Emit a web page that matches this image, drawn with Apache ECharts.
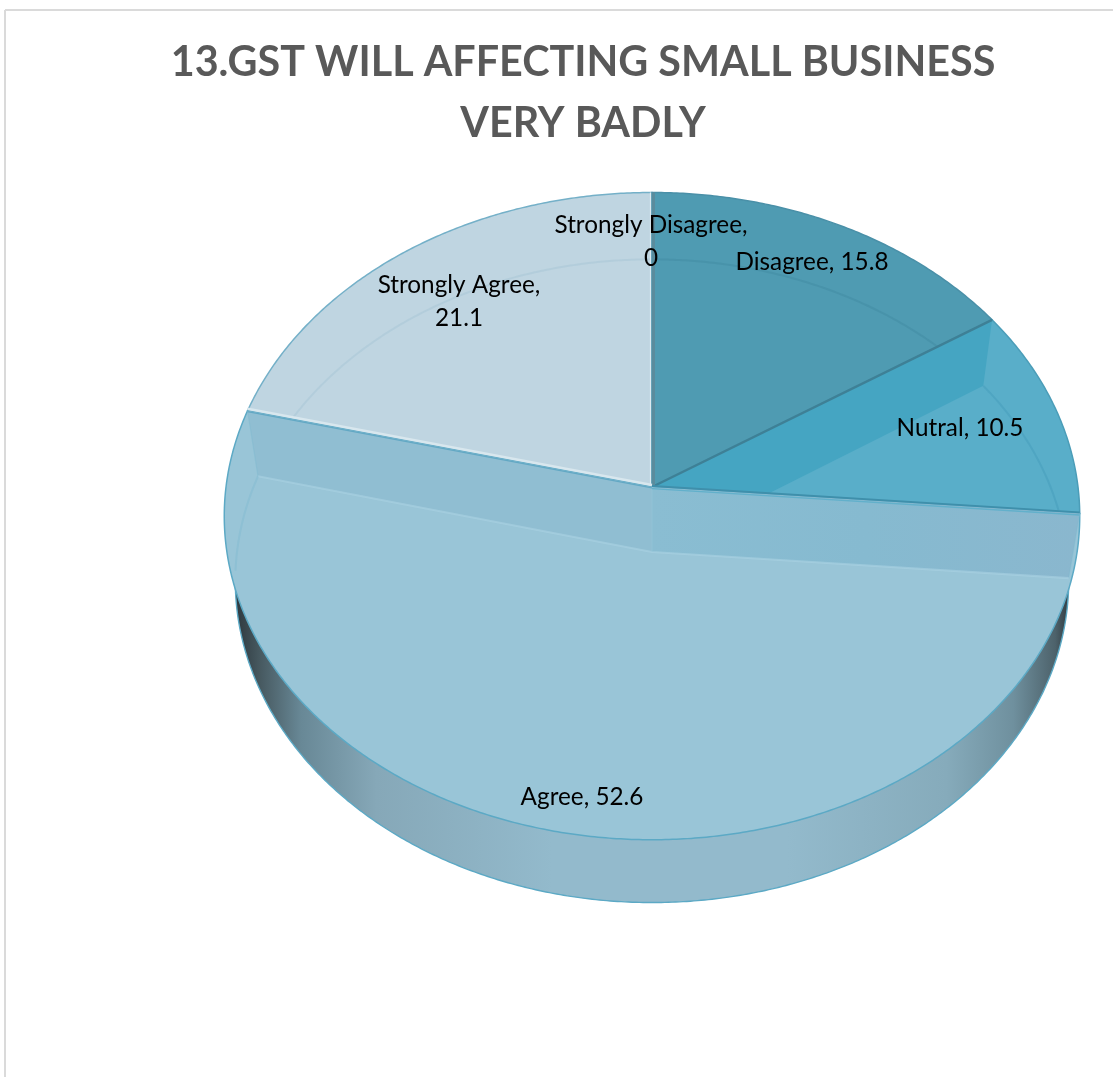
<!DOCTYPE html>
<html>
<head>
<meta charset="utf-8">
<style>html,body{margin:0;padding:0;background:#fff}#chart{width:1113px;height:1077px}</style>
<script src="https://cdn.jsdelivr.net/npm/echarts@6/dist/echarts.min.js"></script>
</head>
<body>
<div id="chart"></div>
<script>
// Survey answers, percentage of respondents
const categories = ['Strongly Disagree', 'Disagree', 'Nutral', 'Agree', 'Strongly Agree'];
const percentages = [0, 15.8, 10.5, 52.6, 21.1];
const titleLines = ['13.GST WILL AFFECTING SMALL BUSINESS', 'VERY BADLY'];

// Disc geometry: a tilted disc with a slight perspective, top rim and lower rim
const topRim = { cx: 652, cy: 487, rx: 426, ry: 321, k: 0.09 };
const lowRim = { cx: 652, cy: 552, rx: 415, ry: 319, k: 0.09 };

// Look of each slice; layer sets the painting order, back to front
const looks = {
  'Strongly Agree': { layer: 1, face: '#BFD5E1', edge: '#74B0C8', ring: 'rgba(120,170,190,0.16)', wall: '#BFD5E1' },
  'Disagree': { layer: 2, face: '#4F9BB2', edge: '#4A90A8', ring: 'rgba(50,120,145,0.24)', wall: '#4F9BB2' },
  'Nutral': { layer: 3, face: '#59AEC9', edge: '#4B9DB8', ring: 'rgba(60,150,180,0.35)', wall: '#45A5C2' },
  'Strongly Disagree': { layer: 4, face: '#5A8C9D', edge: '#5A8C9D', ring: null, wall: '#5A8C9D' },
  'Agree': { layer: 5, face: '#99C5D7', edge: '#5CA9C5', ring: 'rgba(125,185,208,0.4)', wall: '#90BED2' }
};

// Where each data label sits and whether the value wraps below the name
const labelSpots = {
  'Strongly Disagree': { x: 651, y: 242, wrap: true },
  'Disagree': { x: 812, y: 262, wrap: false },
  'Nutral': { x: 960, y: 428, wrap: false },
  'Agree': { x: 582, y: 797, wrap: false },
  'Strongly Agree': { x: 459, y: 302, wrap: true }
};

const total = percentages.reduce((a, b) => a + b, 0);
const slices = [];
percentages.reduce((start, v, i) => {
  const end = start + v / total * Math.PI * 2;
  slices.push({ name: categories[i], start, end });
  return end;
}, 0);

function project(rim, t) {
  const w = 1 + rim.k * Math.cos(t);
  return [rim.cx + rim.rx * Math.sin(t) / w, rim.cy - rim.ry * Math.cos(t) / w];
}
function arc(rim, a, b) {
  const n = Math.max(1, Math.ceil(Math.abs(b - a) / 0.008));
  const out = [];
  for (let i = 0; i <= n; i++) out.push(project(rim, a + (b - a) * i / n));
  return out;
}
const apex = rim => [rim.cx, rim.cy];
const shifted = (p, dy) => [p[0], p[1] + dy];
const nudged = (p, dx) => [p[0] + dx, p[1]];

// Keeps the lower rim's trace only where it shows through the slice's top face
function insideFace(p, s) {
  const a = project(topRim, s.start), b = project(topRim, s.end), o = apex(topRim);
  const side = (q, r) => (q[0] - o[0]) * (r[1] - o[1]) - (q[1] - o[1]) * (r[0] - o[0]);
  const inEllipse = Math.pow((p[0] - 652) / 426, 2) + Math.pow((p[1] - 516) / 323, 2) < 0.985;
  if (!inEllipse) return false;
  if (s.end - s.start > Math.PI) return side(a, p) > 0 || side(b, p) < 0;
  return side(a, p) > 0 && side(b, p) < 0;
}

function polygon(points, fill, stroke, width, z2) {
  return { type: 'polygon', z2, shape: { points }, style: { fill, stroke: stroke || 'none', lineWidth: width || 0 } };
}
function polyline(points, stroke, width, z2) {
  return { type: 'polyline', z2, shape: { points }, style: { fill: 'none', stroke, lineWidth: width, lineJoin: 'round' } };
}

const sideShade = new echarts.graphic.LinearGradient(234, 0, 1072, 0, [
  { offset: 0, color: '#2c363c' },
  { offset: 0.03, color: '#46585f' },
  { offset: 0.08, color: '#688896' },
  { offset: 0.17, color: '#86a8b8' },
  { offset: 0.38, color: '#93bacc' },
  { offset: 0.66, color: '#93bacc' },
  { offset: 0.85, color: '#86abbb' },
  { offset: 0.93, color: '#6f909e' },
  { offset: 0.98, color: '#4d626b' },
  { offset: 1, color: '#2a3338' }
], true);

const rightCut = new echarts.graphic.LinearGradient(652, 0, 1078, 0, [
  { offset: 0, color: '#8ABDD2' },
  { offset: 0.5, color: '#86BAD0' },
  { offset: 1, color: '#8AB7CE' }
], true);

function drawSlice(params, api) {
  const s = slices[api.value(0)];
  const look = looks[s.name];
  const z = look.layer * 20;
  const els = [];
  const tA = project(topRim, s.start), tB = project(topRim, s.end);
  const lA = project(lowRim, s.start), lB = project(lowRim, s.end);
  const tO = apex(topRim), lO = apex(lowRim);

  if (s.end === s.start) {
    // A zero share is only a thin sliver standing at its angle
    els.push(polyline([nudged(tO, -1.5), nudged(tA, -1.5)], '#DCEAF0', 1.2, z));
    els.push(polyline([nudged(tO, 1.5), nudged(tA, 1.5)], look.face, 3, z + 1));
    return { type: 'group', children: els };
  }

  const topArc = arc(topRim, s.start, s.end);
  const lowArc = arc(lowRim, s.start, s.end);

  if (s.name === 'Agree') {
    // Outer wall: the lower outline peeks out below the top face
    els.push(polygon([lO].concat(lowArc), sideShade, '#5CA9C5', 1.4, z));
    els.push(polygon([tO].concat(topArc), look.face, look.edge, 1.5, z + 1));
    // Cut faces seen through the translucent top
    els.push(polygon([tO, tB, lB, lO], look.wall, null, 0, z + 2));
    els.push(polygon([tO, tA, lA, lO], rightCut, null, 0, z + 2));
    els.push(polyline([tB, lB], 'rgba(125,185,208,0.4)', 1.2, z + 3));
    els.push(polyline([tA, lA], 'rgba(125,185,208,0.4)', 1.2, z + 3));
    els.push(polyline([lB, lO, lA], 'rgba(170,210,226,0.6)', 2.2, z + 3));
    els.push(polyline([[lO[0], tO[1]], lO], 'rgba(150,200,220,0.3)', 2, z + 3));
    // Seam along the neighbouring slices
    els.push(polyline([shifted(tB, -2), shifted(tO, -2)], '#D8E7EE', 2.6, z + 4));
    els.push(polyline([shifted(tB, 0.8), shifted(tO, 0.8)], '#62A8C4', 1.2, z + 4));
    els.push(polyline([shifted(tO, -1), shifted(tA, -1)], '#3F8FAB', 1.8, z + 4));
    els.push(polyline([shifted(tO, 1.6), shifted(tA, 1.6)], '#62B0CB', 1.4, z + 4));
  } else {
    els.push(polygon([tO].concat(topArc), look.face, look.edge, 1.5, z));
    // Cut wall on the clockwise side, visible where it faces the viewer
    if (s.name === 'Nutral') {
      els.push(polygon([tO, tA, lA, lO], look.wall, null, 0, z + 1));
      els.push(polyline([tO, tA], '#3E8096', 2.4, z + 2));
    }
  }

  // Faint trace of the lower rim through the top face
  if (look.ring) {
    const trace = arc(lowRim, s.start, s.end).filter(p => insideFace(p, s));
    if (trace.length > 1) els.push(polyline(trace, look.ring, 2, z + 3));
  }
  return { type: 'group', children: els };
}

function drawLabel(params, api) {
  const i = api.value(0);
  const spot = labelSpots[categories[i]];
  const text = categories[i] + ',' + (spot.wrap ? '\n' : ' ') + percentages[i];
  return {
    type: 'text',
    style: {
      x: spot.x, y: spot.y, text, fill: '#000',
      font: '24.3px Lato', align: 'center', verticalAlign: 'middle', lineHeight: 33
    }
  };
}

const rows = categories.map((name, i) => ({ name, value: [i, percentages[i]] }));

const chart = echarts.init(document.getElementById('chart'), null, { renderer: 'canvas' });
chart.setOption({
  backgroundColor: '#fff',
  animation: false,
  title: {
    text: titleLines.join('\n'),
    left: 578,
    top: 27,
    textAlign: 'center',
    textStyle: { color: '#595959', fontFamily: 'Lato', fontWeight: 'bold', fontSize: 41.3, lineHeight: 61 }
  },
  graphic: [
    { type: 'line', shape: { x1: 5, y1: 10, x2: 1113, y2: 10 }, style: { stroke: '#DADADA', lineWidth: 2 } },
    { type: 'line', shape: { x1: 5, y1: 10, x2: 5, y2: 1077 }, style: { stroke: '#DADADA', lineWidth: 2 } }
  ],
  series: [
    { type: 'custom', coordinateSystem: 'none', silent: true, renderItem: drawSlice, data: rows, z: 2 },
    { type: 'custom', coordinateSystem: 'none', silent: true, renderItem: drawLabel, data: rows, z: 3 }
  ]
});
</script>
</body>
</html>
